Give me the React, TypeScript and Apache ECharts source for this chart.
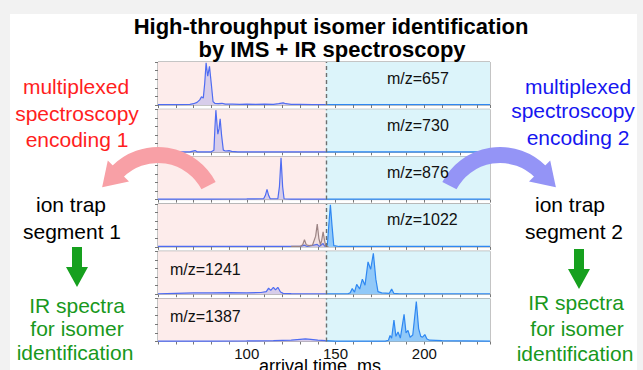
import React, { useEffect, useRef } from 'react';
import * as echarts from 'echarts';

// ---------- data ----------
const mzLabels = ['m/z=657', 'm/z=730', 'm/z=876', 'm/z=1022', 'm/z=1241', 'm/z=1387'];
const xTickLabels = [100, 150, 200];
const X_MIN = 50;
const X_MAX = 237;
const SPLIT = 144.5;

const p657: number[][] = [
  [50, 0.01], [60, 0.01], [68, 0.015], [70, 0.03], [72, 0.06], [73.5, 0.12], [74.5, 0.19], [75.5, 0.16],
  [76.3, 0.5], [77.1, 0.98], [78, 0.67], [79, 0.9], [80, 0.5], [81, 0.08], [82, 0.04], [84, 0.03],
  [86, 0.04], [88, 0.02], [92, 0.02], [96, 0.015], [100, 0.02], [105, 0.015], [110, 0.02], [115, 0.015],
  [118, 0.03], [120.5, 0.05], [122, 0.03], [125, 0.015], [130, 0.015], [137, 0.01], [144.5, 0.01],
  [150, 0.01], [170, 0.01], [200, 0.01], [237, 0.01],
];
const p730: number[][] = [
  [50, 0.01], [68, 0.01], [70.9, 0.04], [72, 0.01], [80, 0.01], [81.5, 0.05], [82.1, 0.6], [82.6, 0.98],
  [83.7, 0.42], [84.4, 0.55], [85, 0.78], [85.8, 0.4], [86.8, 0.05], [88, 0.03], [90, 0.04], [91.5, 0.02],
  [95, 0.01], [144.5, 0.01], [237, 0.01],
];
const p876: number[][] = [
  [50, 0.01], [80, 0.01], [100, 0.015], [109.5, 0.02], [110.5, 0.1], [111.4, 0.24], [112.3, 0.1],
  [113.2, 0.02], [117.5, 0.02], [118.4, 0.3], [119.3, 0.97], [120.2, 0.3], [121, 0.02], [125, 0.01],
  [144.5, 0.01], [237, 0.01],
];
const p1022: number[][] = [
  [50, 0.01], [90, 0.015], [130, 0.01], [132.5, 0.04], [134, 0.01], [139.7, 0.06], [140.8, 0.01],
  [143, 0.08], [143.8, 0.02], [144.5, 0.02], [145.4, 0.05], [146.2, 0.5], [147.1, 0.98], [148, 0.5],
  [149, 0.03], [152, 0.01], [237, 0.01],
];
const p1022Alt: number[][] = [
  [125, 0.01], [130, 0.01], [131.5, 0.05], [132.5, 0.17], [133.5, 0.05], [135, 0.03], [137, 0.04],
  [138.8, 0.25], [139.7, 0.53], [140.6, 0.2], [141.5, 0.05], [142.2, 0.15], [143, 0.35], [143.8, 0.15],
  [144.5, 0.02], [146, 0.01],
];
const p1241: number[][] = [
  [50, 0.01], [60, 0.02], [70, 0.03], [80, 0.03], [90, 0.035], [100, 0.03], [108, 0.04], [111, 0.06],
  [112.3, 0.14], [113.5, 0.09], [115, 0.16], [116.2, 0.1], [117.5, 0.16], [119, 0.05], [120.5, 0.02],
  [125, 0.015], [135, 0.01], [144.5, 0.01], [150, 0.01], [157, 0.01], [158.2, 0.03], [159.4, 0.13],
  [160.7, 0.05], [161.9, 0.23], [163.6, 0.12], [165.1, 0.35], [166.6, 0.21], [168.3, 0.75], [169.8, 0.58],
  [171.3, 0.95], [172.7, 0.35], [173.9, 0.06], [176, 0.03], [180.3, 0.02], [181.6, 0.12], [182.8, 0.02],
  [186, 0.01], [237, 0.01],
];
const p1387: number[][] = [
  [50, 0.01], [80, 0.01], [100, 0.015], [115, 0.02], [125, 0.03], [130, 0.05], [133, 0.06], [136, 0.05],
  [140, 0.03], [144.5, 0.02], [150, 0.01], [178, 0.01], [179.8, 0.03], [180.7, 0.14], [181.6, 0.08],
  [182.9, 0.5], [184, 0.12], [185.2, 0.22], [186.5, 0.08], [188.6, 0.63], [189.7, 0.2], [190.8, 0.26],
  [192, 0.1], [193.5, 0.15], [195.5, 0.93], [196.8, 0.3], [198, 0.12], [199, 0.1], [200.3, 0.16],
  [201.5, 0.06], [203, 0.03], [210, 0.02], [237, 0.01],
];
const panels = [p657, p730, p876, p1022, p1241, p1387];

// ---------- styles ----------
const FONT = '"Liberation Sans", Arial, Helvetica, sans-serif';
const PINK = '#fdeceb';
const CYAN = '#dcf4fa';
const LEFT_LINE = '#4f6cf2';
const LEFT_FILL = 'rgba(100,110,230,0.35)';
const RIGHT_LINE = '#2f88f2';
const RIGHT_FILL = 'rgba(40,140,245,0.6)';
const RED = '#ff1e1e';
const BLUE = '#1616f0';
const GREEN = '#18981c';
const ARROW_GREEN = '#16a01e';

const GRID_LEFT = 158;
const GRID_W = 332;
const GRID_TOP0 = 62;
const GRID_STEP = 47.3;
const GRID_H = 43;

function buildOption() {
  const grids: any[] = [];
  const xAxes: any[] = [];
  const yAxes: any[] = [];
  const series: any[] = [];
  const graphics: any[] = [];

  panels.forEach((data, i) => {
    const top = GRID_TOP0 + i * GRID_STEP;
    grids.push({
      left: GRID_LEFT, width: GRID_W, top, height: GRID_H,
      show: true, borderColor: '#8a8a8a', borderWidth: 1, backgroundColor: 'transparent',
    });
    const last = i === panels.length - 1;
    xAxes.push({
      type: 'value', gridIndex: i, min: X_MIN, max: X_MAX, interval: 10,
      axisLine: { show: false },
      axisTick: { show: true, length: 3, lineStyle: { color: '#777' } },
      splitLine: { show: false },
      axisLabel: last
        ? {
            show: true, margin: 4, fontSize: 15, color: '#111', fontFamily: FONT,
            formatter: (v: number) => (xTickLabels.includes(v) ? String(v) : ''),
          }
        : { show: false },
    });
    yAxes.push({
      type: 'value', gridIndex: i, min: 0, max: 1, interval: 0.2,
      axisLine: { show: false },
      axisTick: { show: true, length: 3, lineStyle: { color: '#777' } },
      axisLabel: { show: false },
      splitLine: { show: false },
    });
    // backgrounds
    series.push({
      type: 'line', xAxisIndex: i, yAxisIndex: i, data: [[X_MIN, 0]], symbol: 'none', silent: true, z: 1,
      lineStyle: { width: 0, opacity: 0 },
      markArea: {
        silent: true,
        data: [
          [{ xAxis: X_MIN, itemStyle: { color: PINK } }, { xAxis: SPLIT }],
          [{ xAxis: SPLIT, itemStyle: { color: CYAN } }, { xAxis: X_MAX }],
        ],
      },
    });
    series.push({
      type: 'line', xAxisIndex: i, yAxisIndex: i, symbol: 'none', silent: true, z: 3,
      data: data.filter((p) => p[0] <= SPLIT),
      lineStyle: { color: LEFT_LINE, width: 1.2 },
      areaStyle: { color: LEFT_FILL },
    });
    series.push({
      type: 'line', xAxisIndex: i, yAxisIndex: i, symbol: 'none', silent: true, z: 3,
      data: data.filter((p) => p[0] >= SPLIT),
      lineStyle: { color: RIGHT_LINE, width: 1.2 },
      areaStyle: { color: RIGHT_FILL },
    });
    if (i === 3) {
      series.push({
        type: 'line', xAxisIndex: i, yAxisIndex: i, symbol: 'none', silent: true, z: 4,
        data: p1022Alt,
        lineStyle: { color: '#9c8484', width: 1.2 },
        areaStyle: { color: 'rgba(150,120,120,0.15)' },
      });
    }
    series.push({
      type: 'line', xAxisIndex: i, yAxisIndex: i, data: [[X_MIN, 0]], symbol: 'none', silent: true, z: 5,
      lineStyle: { width: 0, opacity: 0 },
      markLine: {
        silent: true, symbol: ['none', 'none'], label: { show: false },
        lineStyle: { type: [4, 3], color: '#6e6e6e', width: 1.4 },
        data: [{ xAxis: SPLIT }],
      },
    });
    // m/z label
    const leftSide = i >= 4;
    graphics.push({
      type: 'text', z: 60,
      x: leftSide ? 170 : 387,
      y: top + (leftSide ? 18 : 16),
      style: { text: mzLabels[i], fill: '#111', fontSize: 16, fontFamily: FONT, align: 'left', verticalAlign: 'middle' },
    });
  });

  // titles and side texts
  const textLines: [string, number, number, string, number, string][] = [
    ['High-throughput isomer identification', 331, 26, '#000', 22, 'bold'],
    ['by IMS + IR spectroscopy', 332, 49, '#000', 22, 'bold'],
    ['multiplexed', 76, 86, RED, 21, 'normal'],
    ['spectroscopy', 77, 113, RED, 21, 'normal'],
    ['encoding 1', 77, 139, RED, 21, 'normal'],
    ['ion trap', 71, 204, '#000', 21, 'normal'],
    ['segment 1', 72, 231, '#000', 21, 'normal'],
    ['IR spectra', 77, 305, GREEN, 21, 'normal'],
    ['for isomer', 77, 328, GREEN, 21, 'normal'],
    ['identification', 75, 352, GREEN, 21, 'normal'],
    ['multiplexed', 578, 86, BLUE, 21, 'normal'],
    ['spectroscopy', 573, 110, BLUE, 21, 'normal'],
    ['encoding 2', 578, 137, BLUE, 21, 'normal'],
    ['ion trap', 570, 204, '#000', 21, 'normal'],
    ['segment 2', 574, 231, '#000', 21, 'normal'],
    ['IR spectra', 576, 302, GREEN, 21, 'normal'],
    ['for isomer', 577, 328, GREEN, 21, 'normal'],
    ['identification', 575, 353, GREEN, 21, 'normal'],
    ['arrival time, ms', 320, 366, '#000', 18, 'normal'],
  ];
  textLines.forEach(([text, x, y, fill, size, weight]) => {
    graphics.push({
      type: 'text', z: 60, x, y,
      style: { text, fill, fontSize: size, fontWeight: weight, fontFamily: FONT, align: 'center', verticalAlign: 'middle' },
    });
  });

  // curved arrows
  const R = 57;
  const HW = 15;
  const HL = 22;
  const deg = Math.PI / 180;
  const curved = (cx: number, cy: number, a0: number, a1: number, headAt: number, dirSign: number, color: string) => {
    graphics.push({
      type: 'arc', z: 50,
      shape: { cx, cy, r: R, startAngle: a0 * deg, endAngle: a1 * deg, clockwise: true },
      style: { stroke: color, lineWidth: 16, fill: null, lineCap: 'butt' },
    });
    const t = headAt * deg;
    const ex = cx + R * Math.cos(t);
    const ey = cy + R * Math.sin(t);
    const ux = Math.cos(t);
    const uy = Math.sin(t);
    const dx = dirSign * Math.sin(t);
    const dy = -dirSign * Math.cos(t);
    graphics.push({
      type: 'polygon', z: 50,
      shape: {
        points: [
          [ex + ux * HW - dx, ey + uy * HW - dy],
          [ex - ux * HW - dx, ey - uy * HW - dy],
          [ex + dx * HL, ey + dy * HL],
        ],
      },
      style: { fill: color },
    });
  };
  curved(158, 212, -135, -27.5, -135, 1, '#f8a0a6');
  curved(500, 212, -152.5, -45, -45, -1, '#9494f6');

  // green down arrows
  const down = (cx: number, y0: number) => {
    graphics.push({
      type: 'polygon', z: 50,
      shape: {
        points: [
          [cx - 5, y0], [cx + 5, y0], [cx + 5, y0 + 20], [cx + 11, y0 + 20],
          [cx, y0 + 40], [cx - 11, y0 + 20], [cx - 5, y0 + 20],
        ],
      },
      style: { fill: ARROW_GREEN },
    });
  };
  down(77, 247);
  down(579, 249);

  return {
    animation: false,
    backgroundColor: 'transparent',
    grid: grids,
    xAxis: xAxes,
    yAxis: yAxes,
    series,
    graphic: graphics,
  };
}

export default function App() {
  const ref = useRef<HTMLDivElement>(null);
  useEffect(() => {
    if (!ref.current) return;
    const chart = echarts.init(ref.current, null, { renderer: 'svg' });
    chart.setOption(buildOption() as any);
    return () => chart.dispose();
  }, []);
  return (
    <div style={{ position: 'fixed', left: 0, top: 0, width: 643, height: 370, background: '#f2f2f2', overflow: 'hidden' }}>
      <div style={{ position: 'absolute', left: 10, top: 14, width: 627, height: 356, background: '#ffffff' }} />
      <div ref={ref} style={{ position: 'absolute', left: 0, top: 0, width: 643, height: 370 }} />
    </div>
  );
}
